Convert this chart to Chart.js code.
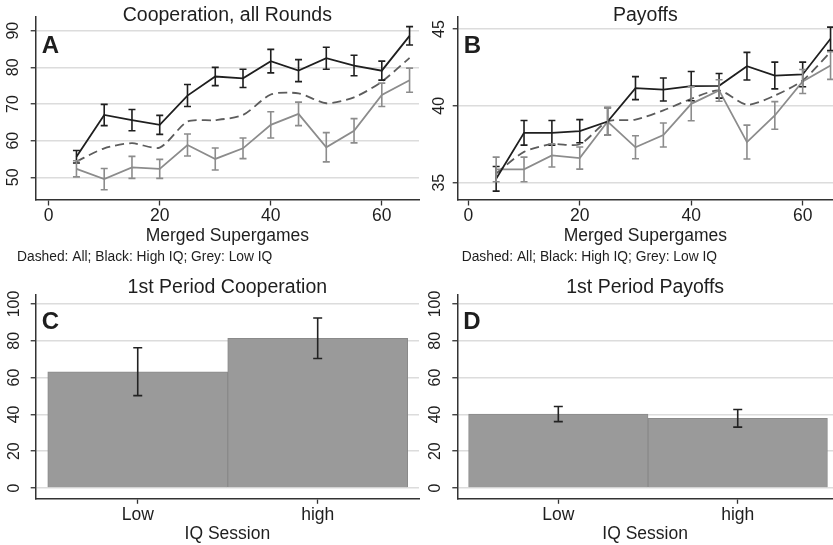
<!DOCTYPE html>
<html>
<head>
<meta charset="utf-8">
<script src="https://cdn.jsdelivr.net/npm/chart.js@4.4.1/dist/chart.umd.min.js"></script>
<style>
  body { margin: 0; background: #fff; }
  #wrap { position: relative; width: 833px; height: 545px; overflow: hidden; background: #fff; }
  canvas { position: absolute; }
</style>
</head>
<body>
<div id="wrap">
  <canvas id="panel-a" width="420" height="265" style="left:0;top:0"></canvas>
  <canvas id="panel-b" width="413" height="265" style="left:420px;top:0"></canvas>
  <canvas id="panel-c" width="420" height="280" style="left:0;top:265px"></canvas>
  <canvas id="panel-d" width="413" height="280" style="left:420px;top:265px"></canvas>
</div>
<script>
// Merged supergames (x values of the line panels)
const supergames = [5, 10, 15, 20, 25, 30, 35, 40, 45, 50, 55, 60, 65];
const supergameTicks = [0, 20, 40, 60];

// Panel A: cooperation, all rounds (%)
const coopAll = [54.3, 57.9, 59.3, 58.1, 65.2, 65.6, 67.0, 72.6, 72.9, 70.2, 71.8, 76.1, 82.6];
const coopHigh = [55.6, 67.0, 65.6, 64.3, 72.3, 77.5, 77.0, 81.7, 79.1, 82.5, 80.5, 79.1, 88.6];
const coopHighErr = [1.7, 2.9, 2.9, 2.6, 3.0, 2.5, 2.5, 3.2, 3.0, 3.0, 2.8, 2.6, 2.5];
const coopLow = [52.3, 49.5, 52.7, 52.3, 58.8, 55.0, 57.9, 64.3, 67.3, 58.2, 62.7, 72.5, 76.5];
const coopLowErr = [2.2, 2.9, 3.0, 2.6, 3.0, 3.0, 2.8, 3.6, 3.2, 4.0, 3.3, 3.2, 3.3];
const coopTicks = [50, 60, 70, 80, 90];

// Panel B: payoffs
const payAll = [35.6, 37.0, 37.5, 37.5, 38.98, 39.1, 39.7, 40.45, 41.0, 40.07, 40.67, 41.65, 43.5];
const payHigh = [35.25, 38.24, 38.24, 38.35, 38.98, 41.15, 41.06, 41.28, 41.3, 42.58, 41.97, 42.04, 44.36];
const payHighErr = [0.8, 0.8, 0.8, 0.75, 0.9, 0.75, 0.75, 0.95, 0.8, 0.9, 0.87, 0.8, 0.76];
const payLow = [35.86, 35.86, 36.77, 36.6, 38.98, 37.3, 38.1, 40.13, 41.0, 37.64, 39.37, 41.58, 42.62];
const payLowErr = [0.8, 0.8, 0.75, 0.72, 0.9, 0.75, 0.78, 1.1, 0.7, 1.1, 0.9, 0.78, 0.9];
const payTicks = [35, 40, 45];

// Panels C and D: first period, by IQ session
const iqSessions = ['Low', 'high'];
const firstCoop = [63.2, 81.4];
const firstCoopErr = [13.0, 11.0];
const firstPay = [40.2, 37.9];
const firstPayErr = [4.1, 4.8];
const barTicks = [0, 20, 40, 60, 80, 100];

const FONT = '"Liberation Sans", Arial, Helvetica, sans-serif';
const TEXT = '#1e1e1e';
const BLACK = '#1f1f1f';
const GREY = '#8c8c8c';
const DASH = '#5c5c5c';

Chart.defaults.font.family = FONT;
Chart.defaults.color = TEXT;

function points(xs, ys) {
    return ys.map((v, i) => ({ x: xs[i], y: v }));
}

// error bars drawn through the chart scales
const errorBars = {
    id: 'errorBars',
    afterDatasetsDraw(chart) {
        const { ctx, scales: { x, y } } = chart;
        chart.data.datasets.forEach(ds => {
            if (!ds.errors) return;
            ctx.save();
            ctx.strokeStyle = ds.errorColor;
            ctx.lineWidth = 1.6;
            ds.data.forEach((pt, j) => {
                const px = x.getPixelForValue(pt.x);
                const top = y.getPixelForValue(pt.y + ds.errors[j]);
                const bot = y.getPixelForValue(pt.y - ds.errors[j]);
                const cap = ds.capSize;
                ctx.beginPath();
                ctx.moveTo(px, top);
                ctx.lineTo(px, bot);
                ctx.moveTo(px - cap, top);
                ctx.lineTo(px + cap, top);
                ctx.moveTo(px - cap, bot);
                ctx.lineTo(px + cap, bot);
                ctx.stroke();
            });
            ctx.restore();
        });
    }
};

// title, panel letter and note
const panelText = {
    id: 'panelText',
    afterDraw(chart, args, opts) {
        const { ctx, chartArea } = chart;
        ctx.save();
        ctx.fillStyle = TEXT;
        ctx.textBaseline = 'middle';
        ctx.textAlign = 'center';
        ctx.font = '19.5px ' + FONT;
        ctx.fillText(opts.title, (chartArea.left + chartArea.right) / 2, opts.titleY);
        ctx.textAlign = 'left';
        ctx.font = 'bold 24px ' + FONT;
        ctx.fillText(opts.letter, chartArea.left + 6, chartArea.top + opts.letterDy);
        if (opts.note) {
            ctx.font = '13.8px ' + FONT;
            ctx.fillText(opts.note, opts.noteX, opts.noteY);
        }
        ctx.restore();
    }
};

function fixedTicks(values) {
    return scale => { scale.ticks = values.map(v => ({ value: v })); };
}

function yAxis(min, max, ticks, width, pad) {
    return {
        type: 'linear',
        min: min,
        max: max,
        afterBuildTicks: fixedTicks(ticks),
        afterFit: s => { s.width = width; s.paddingTop = 0; s.paddingBottom = 0; },
        ticks: {
            autoSkip: false,
            minRotation: 90,
            maxRotation: 90,
            crossAlign: 'center',
            padding: pad,
            color: TEXT,
            font: { size: 16 }
        },
        grid: { color: '#dcdcdc', lineWidth: 1.5, tickLength: 5, tickColor: '#333', tickWidth: 1.3 },
        border: { color: '#333', width: 1.5 }
    };
}

function xAxis(min, max, ticks, height, title, titlePad, labelPad, callback) {
    return {
        type: 'linear',
        min: min,
        max: max,
        offset: false,
        afterBuildTicks: fixedTicks(ticks),
        afterFit: s => { s.height = height; s.paddingLeft = 0; s.paddingRight = 0; },
        ticks: {
            autoSkip: false,
            maxRotation: 0,
            padding: labelPad,
            color: TEXT,
            font: { size: 17.5 },
            callback: callback
        },
        grid: { drawOnChartArea: false, offset: false, tickLength: 5.5, tickColor: '#333', tickWidth: 1.3 },
        border: { color: '#333', width: 1.5 },
        title: { display: true, text: title, color: TEXT, font: { size: 17.5 }, padding: { top: 0, bottom: titlePad } }
    };
}

function lineChart(id, cfg) {
    const ctx = document.getElementById(id).getContext('2d');
    new Chart(ctx, {
        type: 'line',
        data: {
            datasets: [
                {
                    label: 'High IQ',
                    data: points(supergames, cfg.high),
                    borderColor: BLACK,
                    borderWidth: 1.8,
                    pointRadius: 0,
                    errors: cfg.highErr,
                    errorColor: BLACK,
                    capSize: 3.5
                },
                {
                    label: 'Low IQ',
                    data: points(supergames, cfg.low),
                    borderColor: GREY,
                    borderWidth: 1.8,
                    pointRadius: 0,
                    errors: cfg.lowErr,
                    errorColor: GREY,
                    capSize: 3.5
                },
                {
                    label: 'All',
                    data: points(supergames, cfg.all),
                    borderColor: DASH,
                    borderWidth: 1.8,
                    borderDash: [9, 5],
                    pointRadius: 0,
                    tension: 0.25
                }
            ]
        },
        options: {
            responsive: false,
            animation: false,
            devicePixelRatio: 1,
            layout: { padding: { top: 17, right: cfg.padRight, left: 0, bottom: 0 } },
            scales: {
                x: xAxis(cfg.xMin, cfg.xMax, supergameTicks, 65, 'Merged Supergames', 18, 0),
                y: yAxis(cfg.yMin, cfg.yMax, cfg.yTicks, cfg.yWidth, cfg.yPad)
            },
            plugins: {
                legend: { display: false },
                tooltip: { enabled: false },
                panelText: {
                    title: cfg.title,
                    titleY: 16,
                    letter: cfg.letter,
                    letterDy: 29,
                    note: 'Dashed: All; Black: High IQ; Grey: Low IQ',
                    noteX: cfg.noteX,
                    noteY: 257
                }
            }
        },
        plugins: [errorBars, panelText]
    });
}

function barChart(id, cfg) {
    const ctx = document.getElementById(id).getContext('2d');
    new Chart(ctx, {
        type: 'bar',
        data: {
            datasets: [{
                label: cfg.title,
                data: points([0, 1], cfg.values),
                backgroundColor: '#9a9a9a',
                borderColor: '#8a8a8a',
                borderWidth: 1,
                categoryPercentage: 1,
                barPercentage: 1,
                errors: cfg.errs,
                errorColor: '#222',
                capSize: 4.5
            }]
        },
        options: {
            responsive: false,
            animation: false,
            devicePixelRatio: 1,
            layout: { padding: { top: 30, right: cfg.padRight, left: 0, bottom: 0 } },
            scales: {
                x: xAxis(cfg.xMin, cfg.xMax, [0, 1], 46.7, 'IQ Session', 0, 1, v => iqSessions[v]),
                y: yAxis(-5.6, 104.9, barTicks, cfg.yWidth, cfg.yPad)
            },
            plugins: {
                legend: { display: false },
                tooltip: { enabled: false },
                panelText: {
                    title: cfg.title,
                    titleY: 23,
                    letter: cfg.letter,
                    letterDy: 27
                }
            }
        },
        plugins: [errorBars, panelText]
    });
}

lineChart('panel-a', {
    title: 'Cooperation, all Rounds', letter: 'A',
    all: coopAll, high: coopHigh, highErr: coopHighErr, low: coopLow, lowErr: coopLowErr,
    xMin: -2.34, xMax: 66.7, yMin: 43.8, yMax: 93.74, yTicks: coopTicks,
    yWidth: 35.7, yPad: 7.8, padRight: 1, noteX: 17
});

lineChart('panel-b', {
    title: 'Payoffs', letter: 'B',
    all: payAll, high: payHigh, highErr: payHighErr, low: payLow, lowErr: payLowErr,
    xMin: -1.9, xMax: 65.44, yMin: 33.87, yMax: 45.78, yTicks: payTicks,
    yWidth: 37.7, yPad: 4.3, padRight: 0, noteX: 41.7
});

barChart('panel-c', {
    title: '1st Period Cooperation', letter: 'C',
    values: firstCoop, errs: firstCoopErr,
    xMin: -0.567, xMax: 1.563, yWidth: 35.7, yPad: 2.3, padRight: 1
});

barChart('panel-d', {
    title: '1st Period Payoffs', letter: 'D',
    values: firstPay, errs: firstPayErr,
    xMin: -0.563, xMax: 1.531, yWidth: 37.3, yPad: 3.4, padRight: 0
});
</script>
</body>
</html>
